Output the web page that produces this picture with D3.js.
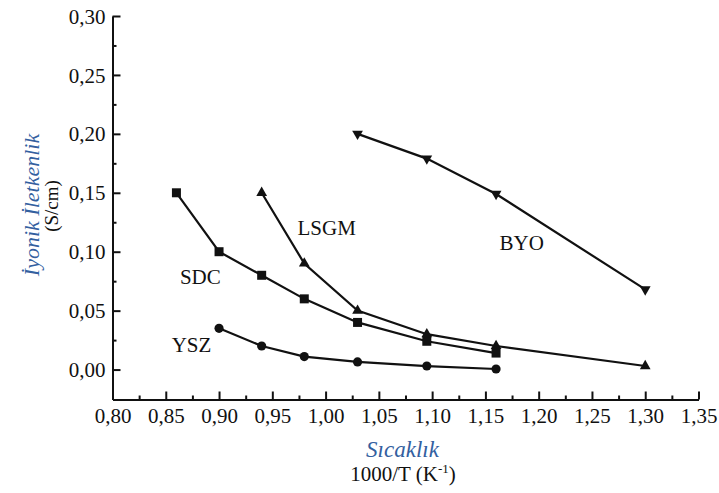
<!DOCTYPE html>
<html>
<head>
<meta charset="utf-8">
<script src="https://cdn.jsdelivr.net/npm/d3@7"></script>
<style>
  body { margin: 0; background: #fff; }
  svg text { font-family: "Liberation Serif", "Times New Roman", serif; }
</style>
</head>
<body>
<div id="graph-container"></div>
<script>
// values
const ysz_x = [0.90, 0.94, 0.98, 1.03, 1.095, 1.16];
const ysz_y = [0.035, 0.020, 0.011, 0.0065, 0.003, 0.0005];
const sdc_x = [0.86, 0.90, 0.94, 0.98, 1.03, 1.095, 1.16];
const sdc_y = [0.150, 0.100, 0.080, 0.060, 0.040, 0.024, 0.014];
const lsgm_x = [0.94, 0.98, 1.03, 1.095, 1.16, 1.30];
const lsgm_y = [0.150, 0.090, 0.050, 0.030, 0.020, 0.003];
const byo_x = [1.03, 1.095, 1.16, 1.30];
const byo_y = [0.200, 0.179, 0.149, 0.068];

const xTicks = [0.80, 0.85, 0.90, 0.95, 1.00, 1.05, 1.10, 1.15, 1.20, 1.25, 1.30, 1.35];
const yTicks = [0.00, 0.05, 0.10, 0.15, 0.20, 0.25, 0.30];

// series name, marker, where the name sits (data units)
const series = [
    {name: "YSZ", xs: ysz_x, ys: ysz_y, marker: "circle", labelAt: [0.8555, 0.0150]},
    {name: "SDC", xs: sdc_x, ys: sdc_y, marker: "square", labelAt: [0.8633, 0.0729]},
    {name: "LSGM", xs: lsgm_x, ys: lsgm_y, marker: "up", labelAt: [0.9736, 0.1144]},
    {name: "BYO", xs: byo_x, ys: byo_y, marker: "down", labelAt: [1.1633, 0.1017]}
];

const width = 719, height = 493;
const margin = {top: 16, right: 20.5, bottom: 93, left: 112.5};
const blue = "#33609f";

const comma = d3.formatLocale({decimal: ",", thousands: ".", grouping: [3], currency: ["", ""]}).format(".2f");

let svg = d3.select("#graph-container").append("svg")
            .attr("width", width)
            .attr("height", height);

let xScale = d3.scaleLinear().domain([0.80, 1.35]).range([margin.left, width - margin.right]);
// y axis runs a bit below zero
let yScale = d3.scaleLinear().domain([-0.0254, 0.30]).range([height - margin.bottom - 0.5, margin.top]);
const xAxisY = height - margin.bottom - 0.5;

// minor ticks first
const xMinor = xTicks.slice(0, -1).map((t) => t + 0.025);
const yMinor = yTicks.slice(0, -1).map((t) => t + 0.025);

svg.append("g")
    .attr("transform", "translate(0," + xAxisY + ")")
    .call(d3.axisBottom(xScale).tickValues(xMinor).tickSize(-4).tickFormat(""))
    .call((g) => g.select(".domain").remove());
svg.append("g")
    .attr("transform", "translate(" + margin.left + ",0)")
    .call(d3.axisLeft(yScale).tickValues(yMinor).tickSize(-4).tickFormat(""))
    .call((g) => g.select(".domain").remove());

let xAxis = svg.append("g")
    .attr("transform", "translate(0," + xAxisY + ")")
    .call(d3.axisBottom(xScale).tickValues(xTicks).tickSize(-8).tickSizeOuter(0).tickPadding(0).tickFormat(comma));
xAxis.selectAll(".tick text").attr("y", 23).attr("dy", 0);

let yAxis = svg.append("g")
    .attr("transform", "translate(" + margin.left + ",0)")
    .call(d3.axisLeft(yScale).tickValues(yTicks).tickSize(-8).tickSizeOuter(0).tickFormat(comma));
yAxis.selectAll(".tick text").attr("x", -7).attr("dy", "0.34em");

svg.selectAll(".tick text").attr("font-size", 21).attr("fill", "#111")
    .attr("font-family", "Liberation Serif, serif");
svg.selectAll(".domain, .tick line").attr("stroke", "#111").attr("stroke-width", 2);

// lines
let plotLine = d3.line()
    .x((d) => xScale(d[0]))
    .y((d) => yScale(d[1]));

const symbolFor = {
    circle: d3.symbol().type(d3.symbolCircle).size(66),
    square: d3.symbol().type(d3.symbolSquare).size(81),
    up: d3.symbol().type(d3.symbolTriangle).size(50),
    down: d3.symbol().type(d3.symbolTriangle).size(50)
};

series.forEach((s) => {
    const pts = s.xs.map((x, i) => [x, s.ys[i]]);
    svg.append("path")
        .attr("d", plotLine(pts))
        .attr("fill", "none")
        .attr("stroke", "#111")
        .attr("stroke-width", 2.2);
    svg.append("g").selectAll("path")
        .data(pts)
        .enter().append("path")
            .attr("d", symbolFor[s.marker]())
            .attr("transform", (d) => "translate(" + xScale(d[0]) + "," + yScale(d[1]) + ")" + (s.marker === "down" ? " rotate(180)" : ""))
            .attr("fill", "#111");
    svg.append("text")
        .attr("x", xScale(s.labelAt[0]))
        .attr("y", yScale(s.labelAt[1]))
        .attr("font-size", 21)
        .attr("fill", "#111")
        .text(s.name);
});

// axis titles
svg.append("text")
    .attr("transform", "translate(39,205) rotate(-90)")
    .attr("text-anchor", "middle")
    .attr("font-style", "italic")
    .attr("font-size", 22)
    .attr("fill", blue)
    .text("İyonik İletkenlik");
svg.append("text")
    .attr("transform", "translate(58,206) rotate(-90)")
    .attr("text-anchor", "middle")
    .attr("font-family", "Liberation Sans, Arial, sans-serif")
    .attr("font-size", 19)
    .attr("fill", "#111")
    .text("(S/cm)");

svg.append("text")
    .attr("x", 402.5)
    .attr("y", 456.5)
    .attr("text-anchor", "middle")
    .attr("font-style", "italic")
    .attr("font-size", 23)
    .attr("fill", blue)
    .text("Sıcaklık");
let unit = svg.append("text")
    .attr("x", 403)
    .attr("y", 481)
    .attr("text-anchor", "middle")
    .attr("font-size", 21)
    .attr("fill", "#111");
unit.append("tspan").text("1000/T (K");
unit.append("tspan").attr("font-size", 13).attr("dy", -8).text("-1");
unit.append("tspan").attr("dy", 8).text(")");
</script>
</body>
</html>
